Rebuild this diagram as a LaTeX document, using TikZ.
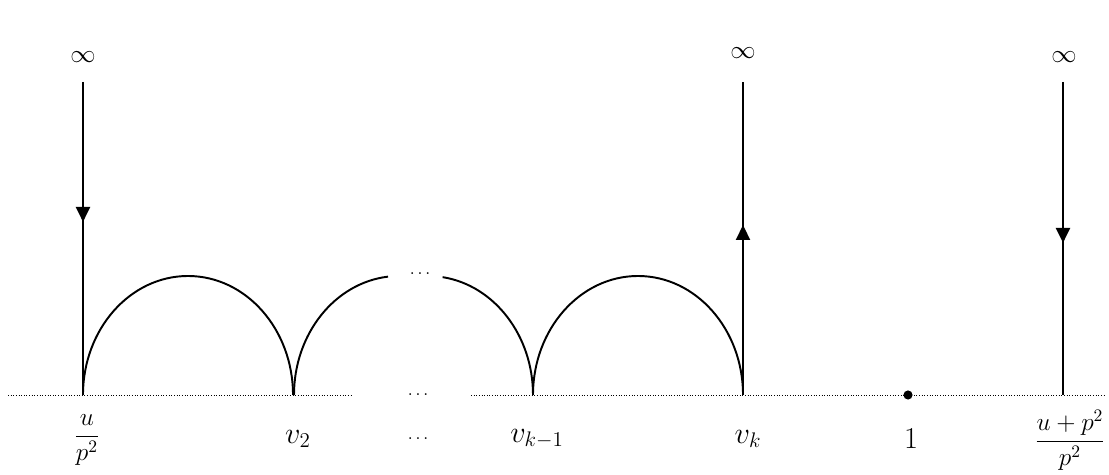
\documentclass[tikz,border=0pt]{standalone}
\usepackage{amsmath}
\usepackage{tikz}
\usetikzlibrary{calc}
\usetikzlibrary{positioning}
\usetikzlibrary{arrows.meta}
\usetikzlibrary{decorations.markings}

\tikzset{
  geod/.style={line width=1.1pt},
  axis/.style={densely dotted, line width=0.5pt},
  flow/.style={line width=1.1pt, postaction={decorate},
    decoration={markings, mark=at position #1 with {\arrow{Triangle[length=8.5pt,width=8pt]}}}},
  pt/.style={font=\fontsize{18}{20}\selectfont},
  fr/.style={font=\fontsize{14}{16}\selectfont},
  inf/.style={font=\fontsize{14}{16}\selectfont}
}

\begin{document}
\begin{tikzpicture}[x=0.02cm, y=0.02cm]
            \useasboundingbox (0,0) rectangle (1109,475);

            % points on the real line
            \coordinate (u) at (83,80);
            \coordinate (v2) at ($(u) + (211,0)$);
            \coordinate (vkm) at ($(u) + (450,0)$);
            \coordinate (vk) at ($(u) + (660,0)$);
            \coordinate (w) at ($(u) + (980,0)$);
            \coordinate (L) at (8,80);
            \coordinate (Lm) at (353,80);
            \coordinate (Rm) at (471,80);
            \coordinate (R) at (1105,80);

            \draw[axis] (L) -- (Lm);
            \draw[axis] (Rm) -- (R);
            \fill (908,80) circle[radius=2.6pt] coordinate (one);

            % tops of the vertical lines
            \coordinate (uT) at ($(u) + (0,313)$);
            \coordinate (vkT) at ($(vk) + (0,313)$);
            \coordinate (wT) at ($(w) + (0,313)$);

            \draw ($(u) + (0,338)$) node[inf] (infu) {$\infty$};
            \draw ($(vk) + (0,342)$) node[inf] (infvk) {$\infty$};
            \draw ($(w) + (1,338)$) node[inf] (infw) {$\infty$};

            \draw[flow=0.447] (uT) -- (u);
            \draw[flow=0.543] (vk) -- (vkT);
            \draw[flow=0.514] (wT) -- (w);

            % arcs
            \draw[geod] (u) arc[start angle=180, end angle=0, x radius=105, y radius=119];
            \draw[geod] (v2) arc[start angle=180, end angle=96, x radius=105, y radius=119];
            \draw[geod] (vkm) arc[start angle=0, end angle=82, x radius=105, y radius=119];
            \draw[geod] (vkm) arc[start angle=180, end angle=0, x radius=105, y radius=119];

            \draw (420,201) node (dtop) {$\ldots$};
            \draw (418,80) node (dmid) {$\ldots$};

            % labels
            \draw ($(u) + (4,-45)$) node[fr] (lu) {$\dfrac{u}{p^2}$};
            \draw ($(v2) + (4,-44)$) node[pt] (lv2) {$v_2$};
            \draw ($(u) + (335,-44)$) node (ldots) {$\ldots$};
            \draw ($(vkm) + (4,-44)$) node[pt] (lvkm) {$v_{k-1}$};
            \draw ($(vk) + (5,-44)$) node[pt] (lvk) {$v_k$};
            \draw ($(one) + (3,-44)$) node[pt] (lone) {$1$};
            \draw ($(w) + (7,-45)$) node[fr] (lw) {$\dfrac{u+p^2}{p^2}$};
        \end{tikzpicture}
\end{document}
